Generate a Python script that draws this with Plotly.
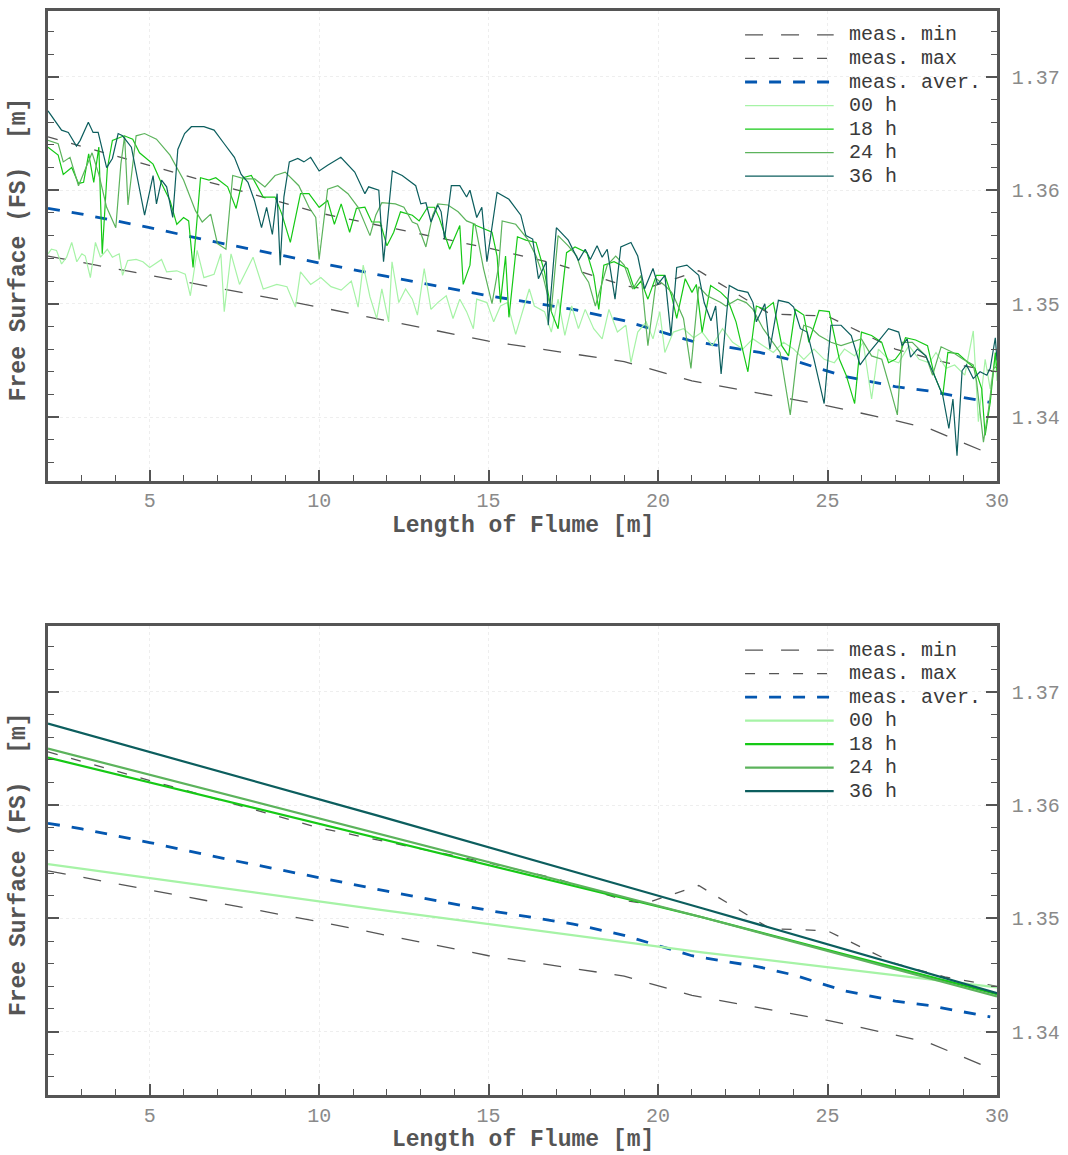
import plotly.graph_objects as go

# ---------------- data ----------------
min_x = [2, 5, 10, 15, 17, 19, 21, 25, 27, 28, 30]
min_y = [1.3542, 1.3525, 1.3497, 1.3467, 1.3458, 1.3449, 1.3432, 1.3410, 1.3397, 1.3390, 1.3365]

max_x = [2, 5, 10, 15, 17, 19, 19.6, 21.2, 23.3, 25, 27, 28.5, 30]
max_y = [1.3647, 1.3622, 1.3580, 1.3549, 1.3535, 1.3516, 1.3513, 1.3529, 1.3491, 1.3489, 1.3460, 1.3448, 1.3440]

aver_x = [2, 3, 5, 7, 10, 12, 15, 16, 17.5, 19, 21, 23, 24, 25.5, 27, 28, 29.8]
aver_y = [1.3584, 1.3579, 1.3567, 1.3554, 1.3536, 1.3524, 1.3507, 1.3502, 1.3495, 1.3485,
          1.3467, 1.3457, 1.3450, 1.3436, 1.3427, 1.3423, 1.3413]

h36_x = [2.0, 2.4, 2.6, 2.84, 2.95, 3.19, 3.33, 3.48, 3.73, 3.9,
         4.07, 4.2, 4.46, 4.85, 5.1, 5.2, 5.35, 5.5, 5.68, 5.83,
         6.03, 6.23, 6.6, 6.9, 7.2, 7.5, 7.7, 7.9, 8.09, 8.3,
         8.45, 8.62, 8.76, 8.85, 8.96, 9.12, 9.37, 9.55, 9.75, 10.0,
         10.25, 10.64, 11.05, 11.35, 11.46, 11.76, 11.9, 12.16, 12.45, 12.85,
         13.0, 13.15, 13.3, 13.5, 13.6, 13.7, 13.9, 14.15, 14.35, 14.45,
         14.65, 14.8, 14.95, 15.25, 15.6, 15.95, 16.1, 16.3, 16.47, 16.7,
         16.76, 17.0, 17.35, 17.65, 17.85, 18.0, 18.2, 18.35, 18.5, 18.73,
         18.9, 19.2, 19.4, 19.6, 19.85, 19.99, 20.2, 20.38, 20.55, 20.85,
         21.2, 21.36, 21.56, 21.7, 21.86, 22.1, 22.35, 22.65, 22.8, 22.9,
         23.15, 23.3, 23.55, 23.85, 24.0, 24.2, 24.4, 24.6, 24.9, 25.1,
         25.4, 25.7, 25.96, 26.2, 26.45, 26.8, 27.1, 27.2, 27.35, 27.45,
         27.65, 27.9, 28.15, 28.4, 28.58, 28.7, 28.82, 28.97, 29.1, 29.3,
         29.5, 29.7, 29.8, 29.95, 30.0]
h36_y = [1.3670, 1.3653, 1.3651, 1.3639, 1.3644, 1.3660, 1.3651, 1.3651, 1.3620, 1.3628,
         1.3650, 1.3648, 1.3638, 1.3578, 1.3613, 1.3588, 1.3609, 1.3603, 1.3576, 1.3636,
         1.3650, 1.3656, 1.3656, 1.3653, 1.3641, 1.3629, 1.3614, 1.3607, 1.3591, 1.3567,
         1.3585, 1.3561, 1.3597, 1.3534, 1.3594, 1.3625, 1.3628, 1.3625, 1.3629, 1.3617,
         1.3622, 1.3629, 1.3616, 1.3597, 1.3603, 1.3600, 1.3537, 1.3617, 1.3613, 1.3604,
         1.3588, 1.3589, 1.3572, 1.3587, 1.3581, 1.3557, 1.3604, 1.3604, 1.3594, 1.3600,
         1.3576, 1.3585, 1.3537, 1.3598, 1.3592, 1.3578, 1.3560, 1.3557, 1.3522, 1.3537,
         1.3481, 1.3567, 1.3556, 1.3538, 1.3548, 1.3539, 1.3551, 1.3541, 1.3548, 1.3504,
         1.3550, 1.3554, 1.3542, 1.3513, 1.3531, 1.3517, 1.3525, 1.3472, 1.3532, 1.3534,
         1.3525, 1.3501, 1.3485, 1.3498, 1.3438, 1.3516, 1.3512, 1.3510, 1.3501, 1.3484,
         1.3500, 1.3460, 1.3503, 1.3501, 1.3497, 1.3478, 1.3475, 1.3451, 1.3412, 1.3481,
         1.3481, 1.3472, 1.3446, 1.3456, 1.3465, 1.3478, 1.3475, 1.3463, 1.3469, 1.3453,
         1.3460, 1.3454, 1.3437, 1.3419, 1.3390, 1.3416, 1.3366, 1.3441, 1.3446, 1.3434,
         1.3440, 1.3437, 1.3443, 1.3470, 1.3450]

h24_x = [2.0, 2.3, 2.45, 2.65, 2.9, 3.2, 3.3, 3.5, 3.73, 4.0,
         4.15, 4.26, 4.36, 4.6, 4.85, 5.2, 5.6, 6.0, 6.35, 6.55,
         6.8, 7.0, 7.25, 7.45, 7.8, 8.1, 8.4, 8.7, 9.0, 9.4,
         9.7, 9.9, 10.0, 10.25, 10.55, 10.85, 11.15, 11.5, 11.67, 11.85,
         12.25, 12.5, 12.75, 12.9, 13.15, 13.35, 13.5, 13.8, 14.1, 14.35,
         14.6, 14.85, 15.1, 15.3, 15.4, 15.8, 16.15, 16.4, 16.6, 16.85,
         17.05, 17.35, 17.6, 17.75, 17.95, 18.15, 18.35, 18.5, 18.75, 19.0,
         19.25, 19.5, 19.7, 19.95, 20.2, 20.4, 20.5, 20.75, 20.97, 21.2,
         21.45, 21.85, 22.0, 22.35, 22.6, 22.8, 23.1, 23.4, 23.6, 23.9,
         24.1, 24.3, 24.5, 24.75, 25.1, 25.4, 25.7, 26.0, 26.3, 26.6,
         26.85, 27.06, 27.2, 27.5, 27.9, 28.1, 28.35, 28.7, 29.0, 29.3,
         29.4, 29.6, 29.75, 29.9, 30.0]
h24_y = [1.3644, 1.3641, 1.3625, 1.3629, 1.3604, 1.3626, 1.3633, 1.3614, 1.3585, 1.3567,
         1.3623, 1.3648, 1.3587, 1.3648, 1.3650, 1.3645, 1.3631, 1.3609, 1.3582, 1.3572,
         1.3579, 1.3553, 1.3548, 1.3613, 1.3610, 1.3610, 1.3603, 1.3613, 1.3616, 1.3604,
         1.3585, 1.3576, 1.3539, 1.3601, 1.3604, 1.3597, 1.3585, 1.3560, 1.3578, 1.3589,
         1.3588, 1.3585, 1.3572, 1.3570, 1.3550, 1.3578, 1.3588, 1.3587, 1.3581, 1.3573,
         1.3570, 1.3531, 1.3500, 1.3534, 1.3573, 1.3570, 1.3557, 1.3542, 1.3525, 1.3494,
         1.3560, 1.3551, 1.3542, 1.3528, 1.3519, 1.3498, 1.3519, 1.3534, 1.3542, 1.3534,
         1.3513, 1.3525, 1.3463, 1.3522, 1.3516, 1.3510, 1.3504, 1.3487, 1.3443, 1.3515,
         1.3507, 1.3501, 1.3498, 1.3504, 1.3501, 1.3495, 1.3478, 1.3466, 1.3457, 1.3402,
         1.3454, 1.3481, 1.3479, 1.3472, 1.3466, 1.3463, 1.3466, 1.3469, 1.3454, 1.3451,
         1.3425, 1.3402, 1.3466, 1.3466, 1.3454, 1.3437, 1.3462, 1.3457, 1.3451, 1.3446,
         1.3431, 1.3378, 1.3407, 1.3443, 1.3445]

h18_x = [2.0, 2.3, 2.45, 2.7, 2.9, 3.05, 3.2, 3.35, 3.5, 3.6,
         3.75, 3.9, 4.25, 4.5, 4.7, 5.1, 5.35, 5.6, 5.8, 6.0,
         6.15, 6.28, 6.5, 6.75, 6.95, 7.3, 7.55, 7.75, 8.0, 8.35,
         8.7, 8.9, 9.15, 9.45, 9.7, 10.0, 10.25, 10.45, 10.65, 10.9,
         11.1, 11.35, 11.55, 11.8, 12.0, 12.2, 12.4, 12.75, 12.95, 13.2,
         13.4, 13.55, 13.85, 14.15, 14.25, 14.45, 14.55, 14.85, 15.1, 15.25,
         15.35, 15.5, 15.6, 15.85, 16.1, 16.4, 16.65, 16.85, 17.05, 17.3,
         17.55, 17.9, 18.1, 18.25, 18.4, 18.7, 19.1, 19.3, 19.5, 19.7,
         19.95, 20.2, 20.4, 20.55, 20.8, 21.0, 21.13, 21.3, 21.55, 21.85,
         22.05, 22.3, 22.65, 22.9, 23.15, 23.4, 23.65, 23.85, 24.05, 24.3,
         24.45, 24.75, 25.05, 25.35, 25.55, 25.8, 26.0, 26.3, 26.6, 26.8,
         27.0, 27.15, 27.3, 27.6, 27.95, 28.15, 28.4, 28.55, 28.85, 29.15,
         29.35, 29.55, 29.65, 29.8, 29.95, 30.0]
h18_y = [1.3638, 1.3631, 1.3614, 1.3620, 1.3606, 1.3607, 1.3632, 1.3607, 1.3638, 1.3544,
         1.3619, 1.3644, 1.3648, 1.3645, 1.3633, 1.3623, 1.3606, 1.3591, 1.3570, 1.3576,
         1.3573, 1.3532, 1.3611, 1.3609, 1.3611, 1.3603, 1.3584, 1.3611, 1.3613, 1.3594,
         1.3594, 1.3579, 1.3554, 1.3597, 1.3597, 1.3585, 1.3591, 1.3570, 1.3588, 1.3563,
         1.3584, 1.3585, 1.3572, 1.3572, 1.3551, 1.3563, 1.3581, 1.3578, 1.3573, 1.3585,
         1.3585, 1.3575, 1.3548, 1.3569, 1.3517, 1.3534, 1.3570, 1.3566, 1.3563, 1.3542,
         1.3501, 1.3542, 1.3488, 1.3559, 1.3556, 1.3554, 1.3528, 1.3493, 1.3478, 1.3545,
         1.3550, 1.3545, 1.3525, 1.3495, 1.3534, 1.3537, 1.3531, 1.3513, 1.3520, 1.3504,
         1.3525, 1.3525, 1.3507, 1.3487, 1.3522, 1.3510, 1.3517, 1.3475, 1.3516, 1.3510,
         1.3504, 1.3484, 1.3440, 1.3498, 1.3495, 1.3501, 1.3463, 1.3454, 1.3495, 1.3490,
         1.3466, 1.3494, 1.3493, 1.3451, 1.3437, 1.3412, 1.3475, 1.3472, 1.3466, 1.3448,
         1.3451, 1.3457, 1.3470, 1.3468, 1.3463, 1.3437, 1.3419, 1.3457, 1.3456, 1.3448,
         1.3443, 1.3425, 1.3384, 1.3413, 1.3457, 1.3440]

h00_x = [2.0, 2.1, 2.25, 2.4, 2.55, 2.7, 2.85, 3.0, 3.1, 3.25,
         3.4, 3.55, 3.75, 3.9, 4.1, 4.2, 4.35, 4.6, 4.8, 5.0,
         5.35, 5.5, 5.8, 6.05, 6.2, 6.4, 6.6, 6.9, 7.1, 7.2,
         7.4, 7.65, 8.05, 8.35, 8.75, 9.05, 9.3, 9.45, 9.75, 10.05,
         10.35, 10.65, 10.95, 11.15, 11.3, 11.5, 11.7, 11.85, 12.05, 12.15,
         12.35, 12.55, 12.75, 12.9, 13.1, 13.3, 13.5, 13.75, 13.95, 14.15,
         14.35, 14.55, 14.65, 14.95, 15.15, 15.35, 15.55, 15.8, 16.05, 16.2,
         16.35, 16.65, 16.85, 17.05, 17.25, 17.45, 17.65, 17.85, 18.1, 18.35,
         18.55, 18.8, 19.05, 19.2, 19.4, 19.65, 19.85, 20.05, 20.2, 20.45,
         20.75, 21.05, 21.3, 21.6, 21.9, 22.2, 22.5, 22.8, 23.1, 23.4,
         23.7, 24.0, 24.3, 24.6, 24.9, 25.2, 25.5, 25.8, 26.05, 26.3,
         26.5, 26.8, 27.1, 27.4, 27.7, 28.0, 28.2, 28.5, 28.75, 29.05,
         29.3, 29.45, 29.65, 29.8, 29.95, 30.0]
h00_y = [1.3544, 1.3548, 1.3547, 1.3535, 1.3541, 1.3554, 1.3537, 1.3544, 1.3542, 1.3523,
         1.3554, 1.3541, 1.3548, 1.3541, 1.3544, 1.3525, 1.3538, 1.3539, 1.3537, 1.3532,
         1.3539, 1.3528, 1.3529, 1.3526, 1.3507, 1.3547, 1.3523, 1.3526, 1.3544, 1.3493,
         1.3544, 1.3517, 1.3541, 1.3513, 1.3517, 1.3515, 1.3497, 1.3528, 1.3517, 1.3523,
         1.3515, 1.3512, 1.3520, 1.3497, 1.3534, 1.3506, 1.3487, 1.3513, 1.3484, 1.3537,
         1.3501, 1.3513, 1.3504, 1.3490, 1.3531, 1.3495, 1.3501, 1.3507, 1.3487, 1.3504,
         1.3493, 1.3478, 1.3504, 1.3501, 1.3484, 1.3498, 1.3501, 1.3473, 1.3498, 1.3513,
         1.3498, 1.3493, 1.3475, 1.3504, 1.3472, 1.3498, 1.3478, 1.3495, 1.3478, 1.3469,
         1.3495, 1.3475, 1.3481, 1.3448, 1.3475, 1.3484, 1.3469, 1.3493, 1.3457, 1.3475,
         1.3478, 1.3470, 1.3475, 1.3463, 1.3478, 1.3466, 1.3460, 1.3469, 1.3463, 1.3457,
         1.3466, 1.3460, 1.3451, 1.3460, 1.3451, 1.3448, 1.3460, 1.3454, 1.3466, 1.3416,
         1.3460, 1.3451, 1.3448, 1.3463, 1.3451, 1.3448, 1.3457, 1.3443, 1.3446, 1.3437,
         1.3476, 1.3396, 1.3451, 1.3425, 1.3454, 1.3432]

# linear fits (bottom panel)
fit_x = [2, 11.7, 21.3, 30]
fit00_y = [1.3548, 1.3508, 1.3470, 1.3439]
fit18_y = [1.3642, 1.3571, 1.3501, 1.3433]
fit24_y = [1.3650, 1.3575, 1.3501, 1.3431]
fit36_y = [1.3672, 1.3591, 1.3509, 1.3434]

for a, b in [(h36_x, h36_y), (h24_x, h24_y), (h18_x, h18_y), (h00_x, h00_y)]:
    assert len(a) == len(b), (len(a), len(b))

legend_labels = ["meas. min", "meas. max", "meas. aver.", "00 h", "18 h", "24 h", "36 h"]
x_ticks = [5, 10, 15, 20, 25, 30]
y_ticks = [1.34, 1.35, 1.36, 1.37]

# ---------------- styles ----------------
GREY = "#555555"
BLUE = "#0457b0"
C00 = "#a6f3a6"
C18 = "#16c916"
C24 = "#5cb35c"
C36 = "#0c5e5e"
MONO = "Liberation Mono"

styles = [
    dict(color=GREY, width=1.3, dash="18px,18px"),
    dict(color=GREY, width=1.3, dash="10px,14px"),
    dict(color=BLUE, width=2.8, dash="12px,12px"),
]

fig = go.Figure()

panels = [
    ("x", "y", [(h00_x, h00_y), (h18_x, h18_y), (h24_x, h24_y), (h36_x, h36_y)], 1.2),
    ("x2", "y2", [(fit_x, fit00_y), (fit_x, fit18_y), (fit_x, fit24_y), (fit_x, fit36_y)], 2.2),
]
series_colors = [C00, C18, C24, C36]

for xa, ya, series, w in panels:
    for (mx, my), st, name in zip([(min_x, min_y), (max_x, max_y), (aver_x, aver_y)], styles, legend_labels[:3]):
        fig.add_trace(go.Scatter(x=mx, y=my, mode="lines", line=st, name=name,
                                 xaxis=xa, yaxis=ya, showlegend=False))
    for (sx, sy), c, name in zip(series, series_colors, legend_labels[3:]):
        fig.add_trace(go.Scatter(x=sx, y=sy, mode="lines", line=dict(color=c, width=w),
                                 name=name, xaxis=xa, yaxis=ya, showlegend=False))

tickfont = dict(family=MONO, size=20, color="#8a8a8a")
xaxis_common = dict(range=[2, 30], tickvals=x_ticks, ticktext=[str(v) for v in x_ticks],
                    showline=True, mirror=True, linecolor=GREY, linewidth=2.5,
                    ticks="inside", ticklen=11, tickwidth=1.8, tickcolor=GREY,
                    minor=dict(ticks="inside", ticklen=6, tickwidth=1.2, tickcolor=GREY,
                               dtick=1, tick0=0, showgrid=False),
                    showgrid=True, gridcolor="#eeeeee", griddash="dot", gridwidth=1,
                    zeroline=False, tickfont=tickfont)
yaxis_common = dict(range=[1.3344, 1.3758], tickvals=y_ticks, ticktext=["%.2f" % v for v in y_ticks],
                    side="right", showline=True, mirror="allticks", linecolor=GREY, linewidth=2.5,
                    ticks="inside", ticklen=11, tickwidth=1.8, tickcolor=GREY,
                    minor=dict(ticks="inside", ticklen=6, tickwidth=1.2, tickcolor=GREY,
                               dtick=0.002, tick0=1.34, showgrid=False),
                    showgrid=True, gridcolor="#eeeeee", griddash="dot", gridwidth=1,
                    zeroline=False, tickfont=tickfont, ticklabelstandoff=8)

TOP = [0.5667, 1.0]
BOT = [0.0, 0.4324]

fig.update_layout(
    width=1068, height=1155,
    margin=dict(l=48, r=67, t=8, b=60),
    paper_bgcolor="white", plot_bgcolor="white",
    showlegend=False,
    xaxis=dict(xaxis_common, domain=[0, 1], anchor="y"),
    yaxis=dict(yaxis_common, domain=TOP, anchor="x"),
    xaxis2=dict(xaxis_common, domain=[0, 1], anchor="y2"),
    yaxis2=dict(yaxis_common, domain=BOT, anchor="x2"),
)

# ---------------- custom legends & titles ----------------
shapes = []
annotations = []
plot_h = 471.0
row0 = 24.0
row_dy = 23.6
line_x0 = (748 - 48) / 953.0
line_x1 = (837 - 48) / 953.0
text_x = (850 - 48) / 953.0
leg_styles_top = styles + [dict(color=c, width=1.3) for c in series_colors]
leg_styles_bot = styles + [dict(color=c, width=2.2) for c in series_colors]

for xa, ya, legst in [("x", "y", leg_styles_top), ("x2", "y2", leg_styles_bot)]:
    for i, (lab, st) in enumerate(zip(legend_labels, legst)):
        yd = 1 - (row0 + row_dy * i) / plot_h
        shapes.append(dict(type="line", xref=xa + " domain", yref=ya + " domain",
                           x0=line_x0, x1=line_x1, y0=yd, y1=yd, line=st))
        annotations.append(dict(text=lab, xref=xa + " domain", yref=ya + " domain",
                                x=text_x, y=yd, xanchor="left", yanchor="middle",
                                showarrow=False,
                                font=dict(family=MONO, size=20, color="#3a3a3a")))
    annotations.append(dict(text="Length of Flume [m]", xref=xa + " domain", yref=ya + " domain",
                            x=0.5, y=-45 / plot_h, xanchor="center", yanchor="middle",
                            showarrow=False,
                            font=dict(family=MONO, size=23, color=GREY, weight="bold")))
    annotations.append(dict(text="Free Surface (FS)  [m]", xref=xa + " domain", yref=ya + " domain",
                            x=-29 / 953.0, y=0.493, xanchor="center", yanchor="middle",
                            textangle=-90, showarrow=False,
                            font=dict(family=MONO, size=23, color=GREY, weight="bold")))

fig.update_layout(shapes=shapes, annotations=annotations)

# remove the browser's default 8px page margin so the figure fills the window exactly
fig.write_html("out.html", config={"displayModeBar": False},
               post_script="document.body.style.margin='0px';")
